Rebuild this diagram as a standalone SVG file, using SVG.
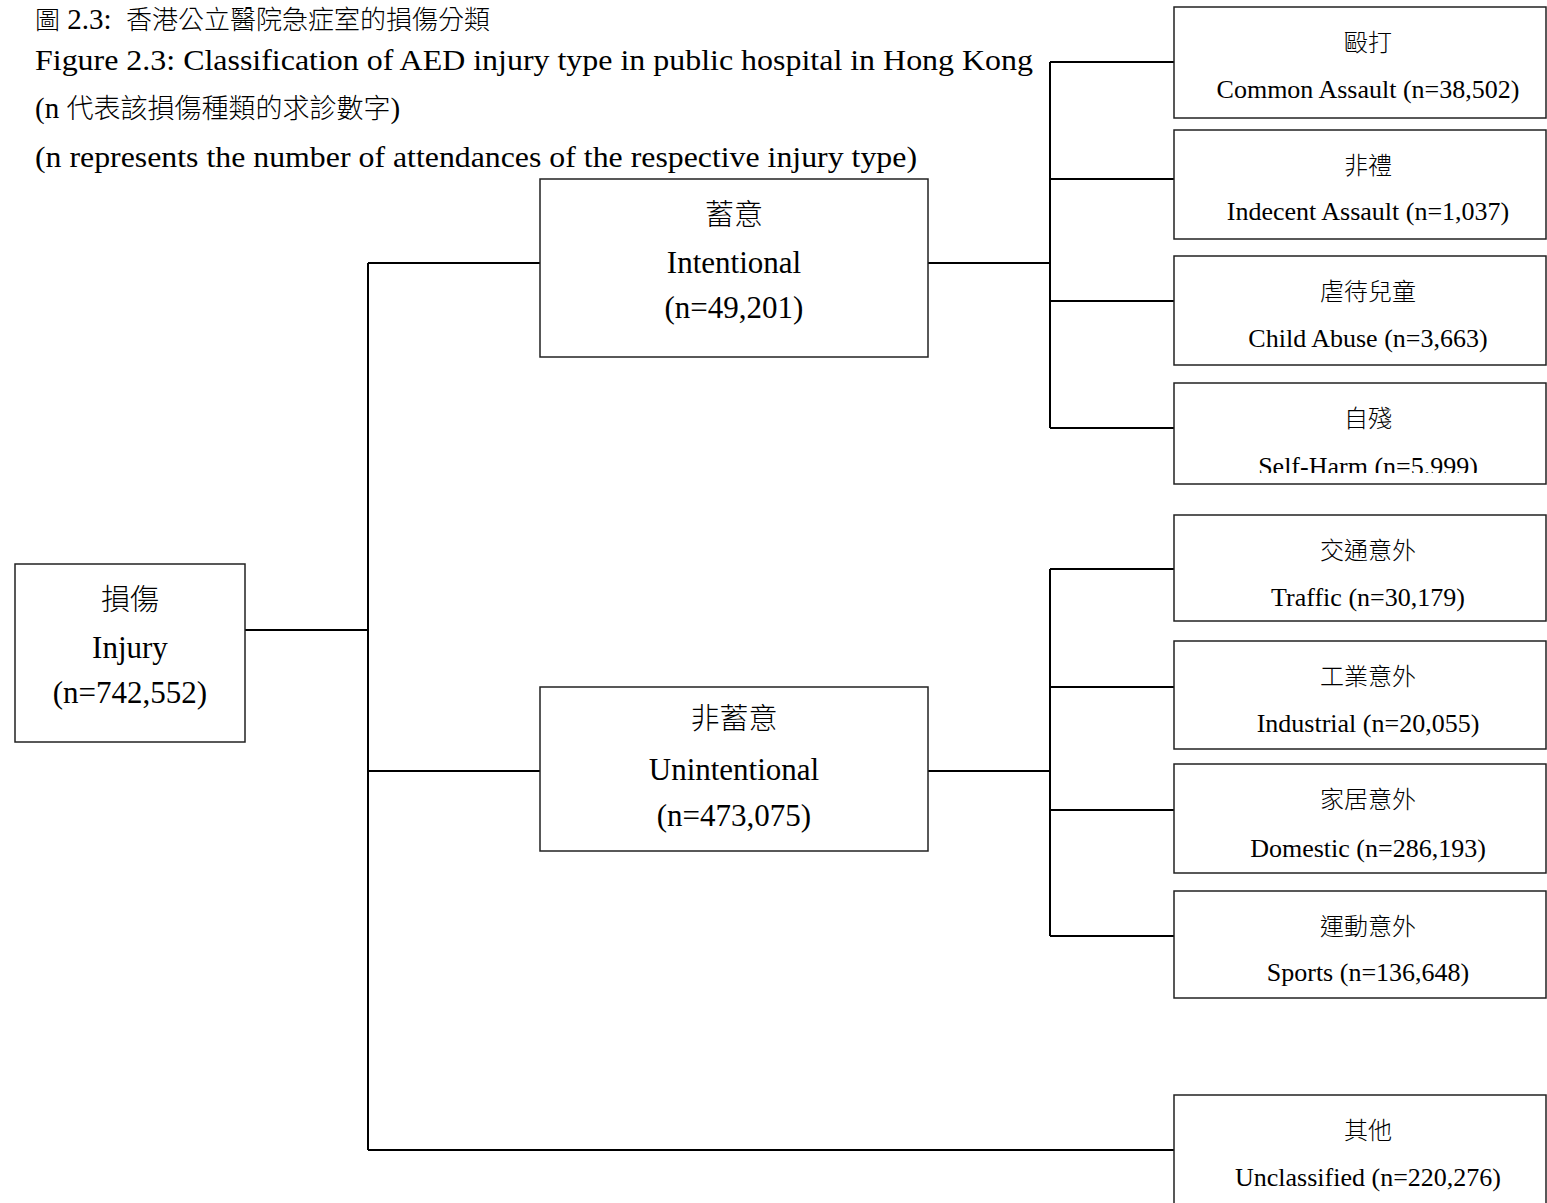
<svg xmlns="http://www.w3.org/2000/svg" width="1547" height="1203" viewBox="0 0 1547 1203">
<style>
text{font-family:"Liberation Serif","Noto Sans CJK TC",serif;fill:#000}
.hd{font-size:29px}
.cjk{font-family:"Noto Sans CJK TC","Liberation Serif",sans-serif;font-weight:300}
.big{font-size:31px;text-anchor:middle}
.bigc{font-size:29px;text-anchor:middle}
.sm{font-size:26px;text-anchor:middle}
.smc{font-size:24px;text-anchor:middle}
.box{fill:#fff;stroke:#222;stroke-width:1.5}
.con{fill:none;stroke:#000;stroke-width:2}
</style>
<defs>
<clipPath id="clipSH"><rect x="1174" y="383" width="373" height="90"/></clipPath>
</defs>
<rect width="1547" height="1203" fill="#fff"/>
<g id="header">
<text class="hd" x="35" y="29"><tspan class="cjk" font-size="25">圖</tspan> 2.3:&#160; <tspan class="cjk" font-size="26">香港公立醫院急症室的損傷分類</tspan></text>
<text class="hd" x="35" y="70" textLength="998" lengthAdjust="spacingAndGlyphs">Figure 2.3: Classification of AED injury type in public hospital in Hong Kong</text>
<text class="hd" x="35" y="118">(n <tspan class="cjk" font-size="27">代表該損傷種類的求診數字</tspan>)</text>
<text class="hd" x="35" y="167" textLength="882" lengthAdjust="spacingAndGlyphs">(n represents the number of attendances of the respective injury type)</text>
</g>
<g id="connectors">
<path class="con" d="M245,630 H368" stroke-width="3"/>
<path class="con" d="M368,263 V1150"/>
<path class="con" d="M368,263 H540 M368,771 H540 M368,1150 H1174"/>
<path class="con" d="M928,263 H1050 M1050,62 V428 M1050,62 H1174 M1050,179 H1174 M1050,301 H1174 M1050,428 H1174"/>
<path class="con" d="M928,771 H1050 M1050,569 V936 M1050,569 H1174 M1050,687 H1174 M1050,810 H1174 M1050,936 H1174"/>
</g>
<g id="injury">
<rect class="box" x="15" y="564" width="230" height="178"/>
<text class="bigc cjk" x="130" y="610">損傷</text>
<text class="big" x="130" y="658">Injury</text>
<text class="big" x="130" y="703">(n=742,552)</text>
</g>
<g id="intentional">
<rect class="box" x="540" y="179" width="388" height="178"/>
<text class="bigc cjk" x="734" y="225">蓄意</text>
<text class="big" x="734" y="273">Intentional</text>
<text class="big" x="734" y="318">(n=49,201)</text>
</g>
<g id="unintentional">
<rect class="box" x="540" y="687" width="388" height="164"/>
<text class="bigc cjk" x="734" y="729">非蓄意</text>
<text class="big" x="734" y="780">Unintentional</text>
<text class="big" x="734" y="826">(n=473,075)</text>
</g>
<g id="common-assault">
<rect class="box" x="1174" y="7" width="372" height="111"/>
<text class="smc cjk" x="1368" y="51">毆打</text>
<text class="sm" x="1368" y="98">Common Assault (n=38,502)</text>
</g>
<g id="indecent-assault">
<rect class="box" x="1174" y="130" width="372" height="109"/>
<text class="smc cjk" x="1368" y="174">非禮</text>
<text class="sm" x="1368" y="220">Indecent Assault (n=1,037)</text>
</g>
<g id="child-abuse">
<rect class="box" x="1174" y="256" width="372" height="109"/>
<text class="smc cjk" x="1368" y="300">虐待兒童</text>
<text class="sm" x="1368" y="347">Child Abuse (n=3,663)</text>
</g>
<g id="self-harm">
<rect class="box" x="1174" y="383" width="372" height="101"/>
<text class="smc cjk" x="1368" y="427">自殘</text>
<text class="sm" x="1368" y="475" clip-path="url(#clipSH)">Self-Harm (n=5.999)</text>
</g>
<g id="traffic">
<rect class="box" x="1174" y="515" width="372" height="106"/>
<text class="smc cjk" x="1368" y="559">交通意外</text>
<text class="sm" x="1368" y="606">Traffic (n=30,179)</text>
</g>
<g id="industrial">
<rect class="box" x="1174" y="641" width="372" height="108"/>
<text class="smc cjk" x="1368" y="685">工業意外</text>
<text class="sm" x="1368" y="732">Industrial (n=20,055)</text>
</g>
<g id="domestic">
<rect class="box" x="1174" y="764" width="372" height="109"/>
<text class="smc cjk" x="1368" y="808">家居意外</text>
<text class="sm" x="1368" y="857">Domestic (n=286,193)</text>
</g>
<g id="sports">
<rect class="box" x="1174" y="891" width="372" height="107"/>
<text class="smc cjk" x="1368" y="935">運動意外</text>
<text class="sm" x="1368" y="981">Sports (n=136,648)</text>
</g>
<g id="unclassified">
<rect class="box" x="1174" y="1095" width="372" height="120"/>
<text class="smc cjk" x="1368" y="1139">其他</text>
<text class="sm" x="1368" y="1186">Unclassified (n=220,276)</text>
</g>
</svg>
